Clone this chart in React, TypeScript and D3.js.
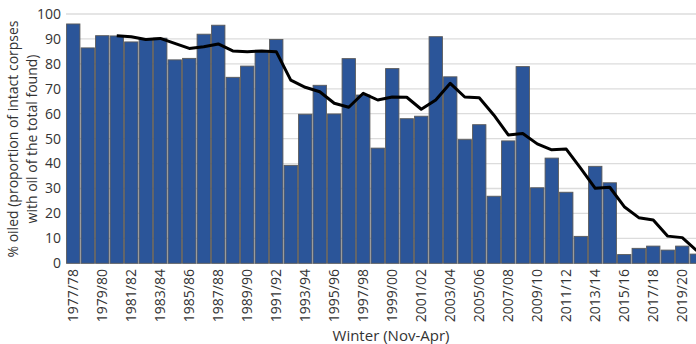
import React from "react";
import * as d3 from "d3";

// Winter seasons (Nov-Apr), 1977/78 to 2020/21
const winters: string[] = [
  "1977/78", "1978/79", "1979/80", "1980/81", "1981/82", "1982/83", "1983/84", "1984/85",
  "1985/86", "1986/87", "1987/88", "1988/89", "1989/90", "1990/91", "1991/92", "1992/93",
  "1993/94", "1994/95", "1995/96", "1996/97", "1997/98", "1998/99", "1999/00", "2000/01",
  "2001/02", "2002/03", "2003/04", "2004/05", "2005/06", "2006/07", "2007/08", "2008/09",
  "2009/10", "2010/11", "2011/12", "2012/13", "2013/14", "2014/15", "2015/16", "2016/17",
  "2017/18", "2018/19", "2019/20", "2020/21",
];

// % of intact corpses found oiled, per winter
const oiledPct: number[] = [
  96.0, 86.4, 91.3, 91.2, 88.8, 89.9, 90.3, 81.6, 82.2, 91.9, 95.5, 74.6,
  79.1, 84.9, 89.8, 39.3, 59.8, 71.4, 59.9, 82.1, 67.5, 46.2, 78.1, 58.0,
  59.0, 90.9, 74.8, 49.6, 55.6, 26.9, 49.1, 78.9, 30.3, 42.2, 28.5, 10.8,
  38.9, 32.3, 3.5, 6.0, 6.9, 5.3, 6.9, 3.7,
];

// Running trend line (starts with the 1980/81 winter)
const trendStart = 3;
const trendPct: number[] = [
  91.3, 90.9, 89.8, 90.2, 88.2, 86.2, 86.9, 88.0, 85.2, 84.9, 85.2, 84.9,
  73.5, 70.6, 68.8, 64.2, 62.6, 68.2, 65.5, 66.7, 66.6, 61.8, 65.5, 72.2,
  66.7, 66.4, 59.5, 51.5, 52.1, 47.9, 45.5, 45.8, 38.1, 30.1, 30.5, 22.7,
  18.3, 17.4, 10.9, 10.3, 5.1,
];

const yTicks: number[] = [0, 10, 20, 30, 40, 50, 60, 70, 80, 90, 100];

const W = 696;
const H = 344;
const FONT = "'Open Sans', 'Noto Sans', sans-serif";
const TEXT = "#333333";

export default function App() {
  const x = d3
    .scaleBand<string>()
    .domain(winters)
    .range([66, 66 + winters.length * 14.5])
    .paddingInner(0.08)
    .paddingOuter(0.04);
  const y = d3.scaleLinear().domain([0, 100]).range([263.3, 14]);

  const trendData = trendPct.map((v, i) => ({ w: winters[i + trendStart], v }));
  const line = d3
    .line<{ w: string; v: number }>()
    .x((d) => (x(d.w) as number) + x.bandwidth() / 2)
    .y((d) => y(d.v));

  const labelled = winters.filter((_, i) => i % 2 === 0);

  return (
    <svg
      width={W}
      height={H}
      style={{ position: "absolute", left: 0, top: 0, background: "#fff" }}
      fontFamily={FONT}
    >
      <defs>
        <clipPath id="frame">
          <rect x={0} y={0} width={W} height={H} />
        </clipPath>
      </defs>
      <g clipPath="url(#frame)">
        {yTicks.map((t) => (
          <line
            key={t}
            x1={66}
            x2={W}
            y1={y(t)}
            y2={y(t)}
            stroke="#dcdcdc"
            strokeWidth={1.3}
          />
        ))}
        {yTicks.map((t) => (
          <text
            key={"t" + t}
            x={61}
            y={y(t)}
            dy="0.35em"
            textAnchor="end"
            fontSize={14}
            fill={TEXT}
          >
            {t}
          </text>
        ))}
        {winters.map((w, i) => (
          <rect
            key={w}
            x={x(w)}
            y={y(oiledPct[i])}
            width={x.bandwidth()}
            height={y(0) - y(oiledPct[i])}
            fill="#2b5599"
            stroke="#5a5a5a"
            strokeWidth={0.9}
          />
        ))}
        <path d={line(trendData) ?? ""} fill="none" stroke="#000" strokeWidth={3} strokeLinejoin="round" />
        {labelled.map((w) => {
          const cx = (x(w) as number) + x.bandwidth() / 2;
          return (
            <text
              key={"l" + w}
              transform={`translate(${cx + 5},269) rotate(-90)`}
              textAnchor="end"
              fontSize={14}
              fill={TEXT}
            >
              {w}
            </text>
          );
        })}
        <text x={391} y={341} textAnchor="middle" fontSize={15} fill={TEXT}>
          Winter (Nov-Apr)
        </text>
        <g transform="translate(0,139) rotate(-90)">
          <text x={0} y={18} textAnchor="middle" fontSize={14} fill={TEXT}>
            % oiled (proportion of intact corpses
          </text>
          <text x={0} y={37} textAnchor="middle" fontSize={14} fill={TEXT}>
            with oil of the total found)
          </text>
        </g>
      </g>
    </svg>
  );
}
